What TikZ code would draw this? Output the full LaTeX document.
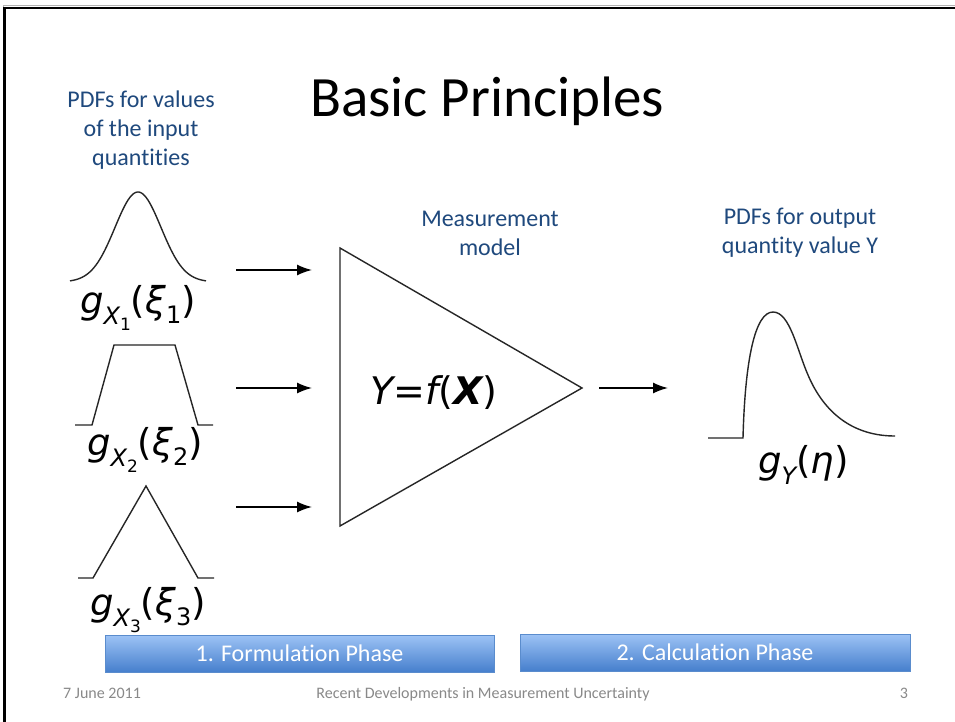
\documentclass[tikz,border=0pt]{standalone}
\usepackage{fontspec}
\setmainfont{Carlito}[Ligatures=NoCommon]
\newfontfamily\mfont{DejaVu Sans}[ItalicFont={DejaVu Sans Oblique},BoldItalicFont={DejaVu Sans Bold Oblique},BoldFont={DejaVu Sans Bold}]
\usetikzlibrary{arrows.meta}
\definecolor{tblue}{RGB}{31,73,125}
\definecolor{fgray}{RGB}{137,137,137}
\definecolor{ptop}{RGB}{157,195,245}
\definecolor{pbot}{RGB}{70,127,205}
\definecolor{pedge}{RGB}{90,140,205}
\newcommand\glab[1]{{\mfont\itshape g\raisebox{-0.3em}{\fontsize{24}{24}\selectfont X\raisebox{-0.28em}{\fontsize{17}{17}\selectfont\upshape #1}}{\upshape(}ξ\raisebox{-0.28em}{\fontsize{24}{24}\selectfont\upshape #1}{\upshape)}}}
\tikzset{
  curve/.style={line width=1.4, black!85},
  conn/.style={line width=1.5, -{Latex[length=15,width=11]}},
  bluetxt/.style={text=tblue, font=\fontsize{24}{28.8}\selectfont, align=center, inner sep=0},
  lab/.style={font=\fontsize{37}{40}\selectfont, inner sep=0, anchor=base west},
  phase/.style={top color=ptop, bottom color=pbot, draw=pedge, line width=0.8, text=white,
    font=\fontsize{24}{28}\selectfont, minimum height=37, inner sep=0},
  foot/.style={text=fgray, font=\fontsize{16}{19}\selectfont, inner sep=0, anchor=base}
}
\begin{document}
\begin{tikzpicture}[x=1pt,y=-1pt]
\useasboundingbox (0,0) rectangle (955,722);
\fill[white] (0,0) rectangle (955,722);
% frame
\draw[gray!60, line width=1] (3.5,722) -- (3.5,6) -- (955,6);
\draw[line width=2.5] (4.7,722) -- (4.7,8) -- (955,8);
% title and captions
\node[font=\fontsize{57}{60}\selectfont, inner sep=0, anchor=base] (title) at (487,117) {Basic Principles};
\node[bluetxt] (inlab) at (141,130) {PDFs for values\\of the input\\quantities};
\node[bluetxt] (mlab) at (490,233) {Measurement\\model};
\node[bluetxt] (olab) at (800,233) {PDFs for output\\quantity value Y};
% input pdfs
\draw[curve] plot[domain=70:206, samples=90] (\x, {282-90*exp(-((\x-138)^2)/1058)});
\draw[curve] (75,425) -- (92,425) -- (114,345) -- (175,345) -- (198,425) -- (213,425);
\draw[curve] (78,578) -- (93,578) -- (146,486) -- (198,578) -- (214,578);
\node[lab] (g1) at (80,313) {\glab{1}};
\node[lab] (g2) at (87,455) {\glab{2}};
\node[lab] (g3) at (90,615) {\glab{3}};
% model triangle
\coordinate (mt) at (340,248);
\coordinate (mb) at (340,526);
\coordinate (mr) at (582,388);
\draw[curve] (mt) -- (mr) -- (mb) -- cycle;
\node[font=\fontsize{38}{40}\selectfont, inner sep=0, anchor=base west] (model) at (370,404) {\mfont\itshape Y=f{\upshape(}\textbf{X}{\upshape)}};
% arrows
\coordinate (a1s) at (236,270); \coordinate (a1e) at (312,270);
\coordinate (a2s) at (236,388); \coordinate (a2e) at (312,388);
\coordinate (a3s) at (236,507); \coordinate (a3e) at (312,507);
\coordinate (aos) at (599,388); \coordinate (aoe) at (668,388);
\draw[conn] (a1s) -- (a1e);
\draw[conn] (a2s) -- (a2e);
\draw[conn] (a3s) -- (a3e);
\draw[conn] (aos) -- (aoe);
% output pdf
\draw[curve] (708,438) -- (743,438) .. controls (745,360) and (755,312) .. (773,312)
  .. controls (790,312) and (797,350) .. (808,375) .. controls (825,415) and (855,436) .. (895,436);
\node[lab] (gy) at (758,473) {\mfont\itshape g\raisebox{-0.3em}{\fontsize{24}{24}\selectfont Y}{\upshape(}η{\upshape)}};
% phases
\node[phase, minimum width=389] (p1) at (299.5,653.5) {1. Formulation Phase};
\node[phase, minimum width=390] (p2) at (715,652.5) {2. Calculation Phase};
% footer
\node[foot, anchor=base west] (date) at (63,698) {7 June 2011};
\node[foot] (ftitle) at (483,698) {Recent Developments in Measurement Uncertainty};
\node[foot] (pnum) at (904,698) {3};
\end{tikzpicture}
\end{document}
